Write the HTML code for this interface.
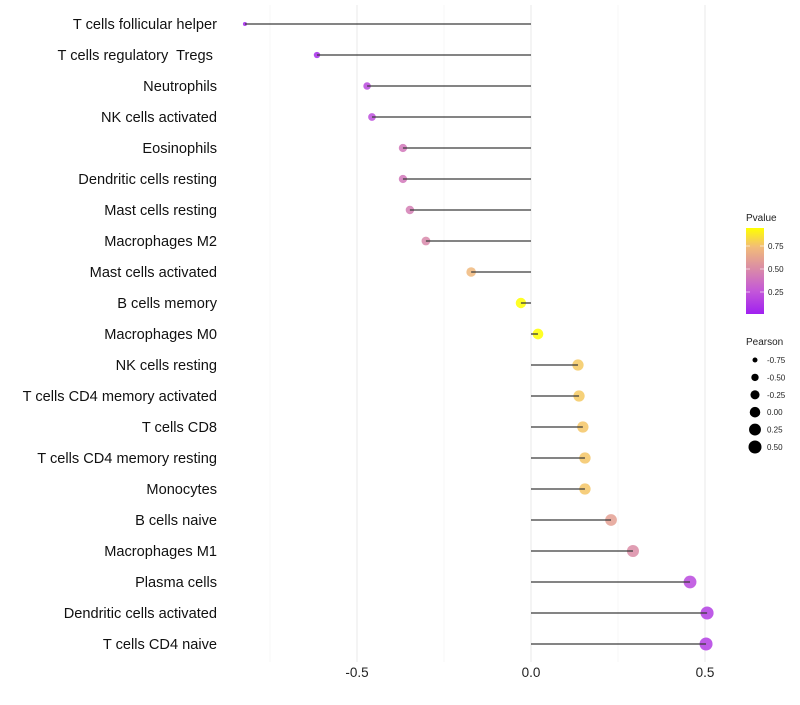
<!DOCTYPE html>
<html><head><meta charset="utf-8"><style>
body{margin:0;background:#fff;font-family:"Liberation Sans",sans-serif}
</style></head><body>
<svg id="chart" width="800" height="700" xmlns="http://www.w3.org/2000/svg">
<defs><linearGradient id="pg" x1="0" y1="1" x2="0" y2="0">
<stop offset="0" stop-color="#a020f0"/><stop offset="0.27" stop-color="#c458d8"/><stop offset="0.52" stop-color="#d98aa8"/><stop offset="0.78" stop-color="#f2bc78"/><stop offset="1" stop-color="#ffff00"/>
</linearGradient></defs>
<g id="grid"></g>
<g id="marks"></g>
<g id="ylab"></g>
<g id="xlab"></g>
<g font-size="10" fill="#222">
<text x="746" y="221">Pvalue</text>
<rect x="746" y="228" width="18" height="86" fill="url(#pg)"/>
<line x1="746" x2="750" y1="246" y2="246" stroke="#fff" opacity="0.6"/><line x1="760" x2="764" y1="246" y2="246" stroke="#fff" opacity="0.6"/>
<line x1="746" x2="750" y1="269" y2="269" stroke="#fff" opacity="0.6"/><line x1="760" x2="764" y1="269" y2="269" stroke="#fff" opacity="0.6"/>
<line x1="746" x2="750" y1="292" y2="292" stroke="#fff" opacity="0.6"/><line x1="760" x2="764" y1="292" y2="292" stroke="#fff" opacity="0.6"/>
<text x="768" y="249" font-size="8">0.75</text><text x="768" y="272" font-size="8">0.50</text><text x="768" y="295" font-size="8">0.25</text>
<text x="746" y="345">Pearson</text>
</g>
<g id="sizeleg"></g>
</svg>
<script>
const cells=["T cells follicular helper","T cells regulatory  Tregs ","Neutrophils","NK cells activated","Eosinophils","Dendritic cells resting","Mast cells resting","Macrophages M2","Mast cells activated","B cells memory","Macrophages M0","NK cells resting","T cells CD4 memory activated","T cells CD8","T cells CD4 memory resting","Monocytes","B cells naive","Macrophages M1","Plasma cells","Dendritic cells activated","T cells CD4 naive"];
const pearson=[-0.822,-0.615,-0.471,-0.457,-0.368,-0.368,-0.348,-0.302,-0.172,-0.029,0.020,0.135,0.138,0.149,0.155,0.155,0.230,0.293,0.457,0.506,0.503];
const pvalue=[0.04,0.06,0.20,0.22,0.42,0.42,0.45,0.50,0.74,0.98,0.98,0.80,0.80,0.79,0.79,0.79,0.62,0.52,0.20,0.15,0.15];
const xticks=[-0.5,0,0.5];
const xminor=[-0.75,-0.25,0.25];
const sizeBreaks=[-0.75,-0.5,-0.25,0,0.25,0.5];
const NS="http://www.w3.org/2000/svg";
const X=v=>531+v*348, Y=i=>24+i*31;
const R=v=>Math.sqrt(Math.max(1,27.85+28.8*v));
const stops=[[0,[160,32,240]],[0.27,[196,88,216]],[0.52,[217,138,168]],[0.78,[242,188,120]],[1,[255,255,0]]];
function col(p){let t=(p-0.01)/0.96;t=Math.max(0,Math.min(1,t));for(let k=1;k<stops.length;k++){if(t<=stops[k][0]){const a=stops[k-1],b=stops[k],f=(t-a[0])/(b[0]-a[0]);return 'rgb('+a[1].map((c,j)=>Math.round(c+(b[1][j]-c)*f)).join(',')+')';}}return 'rgb(255,255,0)';}
function mk(t,a,p){const e=document.createElementNS(NS,t);for(const k in a)e.setAttribute(k,a[k]);p.appendChild(e);return e;}
const grid=document.getElementById('grid'),marks=document.getElementById('marks'),ylab=document.getElementById('ylab'),xlab=document.getElementById('xlab'),sl=document.getElementById('sizeleg');
xminor.forEach(v=>{const l=mk('line',{x1:X(v),x2:X(v),y1:5,y2:662,stroke:'#f2f2f2','stroke-width':0.6},grid);

});
xticks.forEach(v=>{const l=mk('line',{x1:X(v),x2:X(v),y1:5,y2:662,stroke:'#ebebeb','stroke-width':1.1},grid);


const t=mk('text',{x:X(v),y:677,'text-anchor':'middle','font-size':13.5,fill:'#222'},xlab);t.textContent=v===0?'0.0':v.toFixed(1);

});
cells.forEach((c,i)=>{const y=Y(i);
const t=mk('text',{x:217,y:y+5,'text-anchor':'end','font-size':14.6,fill:'#111','xml:space':'preserve'},ylab);t.textContent=c;t.style.whiteSpace='pre';


const d=mk('circle',{cx:X(pearson[i]),cy:y,r:R(pearson[i]),fill:col(pvalue[i]),'fill-opacity':0.85},marks);


const s=mk('line',{x1:X(0),x2:X(pearson[i]),y1:y,y2:y,stroke:'#3a3a3a','stroke-width':1.3},marks);

});
sizeBreaks.forEach((v,k)=>{const y=360+k*17.4;
const d=mk('circle',{cx:755,cy:y,r:R(v),fill:'#000'},sl);


const t=mk('text',{x:767,y:y+3,'font-size':8,fill:'#222'},sl);t.textContent=v.toFixed(2);

});
</script>
</body></html>
